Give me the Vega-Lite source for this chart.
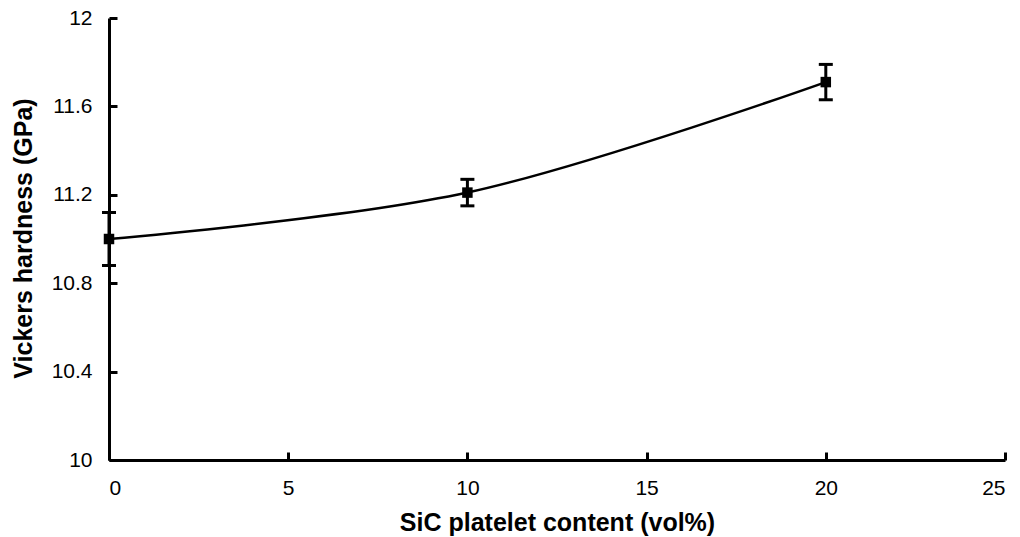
{
  "$schema": "https://vega.github.io/schema/vega-lite/v6.json",
  "width": 896,
  "height": 442,
  "autosize": {"type": "none"},
  "padding": {"left": 109, "top": 18, "right": 15, "bottom": 77},
  "background": "white",
  "config": {"view": {"stroke": null}, "font": "Liberation Sans"},
  "data": {
    "values": [
      {"x": 0, "y": 11.0, "lo": 10.88, "hi": 11.12},
      {"x": 10, "y": 11.21, "lo": 11.15, "hi": 11.27},
      {"x": 20, "y": 11.71, "lo": 11.63, "hi": 11.79}
    ]
  },
  "layer": [
    {
      "mark": {"type": "line", "interpolate": "catmull-rom", "color": "black", "strokeWidth": 2.5, "clip": false},
      "encoding": {
        "x": {
          "field": "x", "type": "quantitative",
          "scale": {"domain": [0, 25], "nice": false, "zero": false},
          "axis": {
            "title": "SiC platelet content (vol%)",
            "values": [0, 5, 10, 15, 20, 25],
            "grid": false,
            "domainColor": "black", "domainWidth": 3,
            "tickColor": "black", "tickWidth": 3, "tickSize": -8,
            "labelFont": "Liberation Sans", "labelFontSize": 21, "labelColor": "black",
            "labelPadding": 25, "labelBaseline": "top",
            "titleFont": "Liberation Sans", "titleFontSize": 25, "titleFontWeight": "bold", "titleColor": "black",
            "titleBaseline": "alphabetic", "titleY": 70
          }
        },
        "y": {
          "field": "y", "type": "quantitative",
          "scale": {"domain": [10, 12], "nice": false, "zero": false},
          "axis": {
            "title": "Vickers hardness (GPa)",
            "values": [10, 10.4, 10.8, 11.2, 11.6, 12],
            "format": "~f",
            "grid": false,
            "domainColor": "black", "domainWidth": 3,
            "tickColor": "black", "tickWidth": 3, "tickSize": -8,
            "labelFont": "Liberation Sans", "labelFontSize": 21, "labelColor": "black",
            "labelPadding": 25,
            "titleFont": "Liberation Sans", "titleFontSize": 25, "titleFontWeight": "bold", "titleColor": "black",
            "titleBaseline": "middle", "titleX": -86, "titleY": 220, "titleAngle": -90
          }
        }
      }
    },
    {
      "mark": {"type": "rule", "color": "black", "strokeWidth": 3, "clip": false},
      "encoding": {
        "x": {"field": "x", "type": "quantitative"},
        "y": {"field": "lo", "type": "quantitative"},
        "y2": {"field": "hi"}
      }
    },
    {
      "mark": {"type": "tick", "orient": "horizontal", "color": "black", "size": 14, "thickness": 3, "opacity": 1, "clip": false},
      "encoding": {
        "x": {"field": "x", "type": "quantitative"},
        "y": {"field": "lo", "type": "quantitative"}
      }
    },
    {
      "mark": {"type": "tick", "orient": "horizontal", "color": "black", "size": 14, "thickness": 3, "opacity": 1, "clip": false},
      "encoding": {
        "x": {"field": "x", "type": "quantitative"},
        "y": {"field": "hi", "type": "quantitative"}
      }
    },
    {
      "mark": {"type": "point", "shape": "square", "filled": true, "color": "black", "size": 110, "opacity": 1, "clip": false},
      "encoding": {
        "x": {"field": "x", "type": "quantitative"},
        "y": {"field": "y", "type": "quantitative"}
      }
    }
  ]
}
